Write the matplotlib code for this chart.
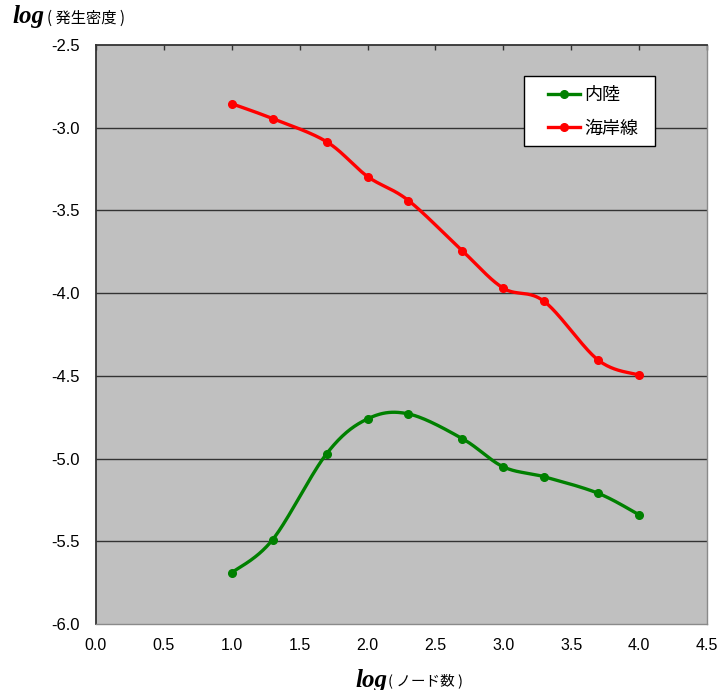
import numpy as np
import matplotlib
matplotlib.use("Agg")
import matplotlib.pyplot as plt
from matplotlib.patches import Rectangle

# ---- data ----
node_counts = [10, 20, 50, 100, 200, 500, 1000, 2000, 5000, 10000]
inland = [-5.69, -5.49, -4.97, -4.76, -4.73, -4.88, -5.05, -5.11, -5.21, -5.34]
coast = [-2.855, -2.945, -3.085, -3.295, -3.44, -3.745, -3.97, -4.05, -4.405, -4.495]
series_names = ["内陸", "海岸線"]
series_colors = ["#008000", "#FF0000"]
xticks = [0.0, 0.5, 1.0, 1.5, 2.0, 2.5, 3.0, 3.5, 4.0, 4.5]
yticks = [-6.0, -5.5, -5.0, -4.5, -4.0, -3.5, -3.0, -2.5]

W, H = 717, 690
fig = plt.figure(figsize=(W / 100, H / 100), dpi=100)
ax = fig.add_axes([96 / W, 1 - 624 / H, (707 - 96) / W, (624 - 45) / H])
ax.set_facecolor("#C0C0C0")


def smooth(x, y, n=40):
    """Excel-like smoothed line: cubic Bezier through points (Catmull-Rom)."""
    x = np.asarray(x, float)
    y = np.asarray(y, float)
    px = np.concatenate([[x[0]], x, [x[-1]]])
    py = np.concatenate([[y[0]], y, [y[-1]]])
    xs, ys = [], []
    t = np.linspace(0, 1, n)
    for i in range(1, len(px) - 2):
        p0 = np.array([px[i], py[i]])
        p3 = np.array([px[i + 1], py[i + 1]])
        p1 = p0 + (np.array([px[i + 1], py[i + 1]]) - np.array([px[i - 1], py[i - 1]])) / 6
        p2 = p3 - (np.array([px[i + 2], py[i + 2]]) - np.array([px[i], py[i]])) / 6
        b = ((1 - t) ** 3)[:, None] * p0 + (3 * (1 - t) ** 2 * t)[:, None] * p1 \
            + (3 * (1 - t) * t ** 2)[:, None] * p2 + (t ** 3)[:, None] * p3
        xs.extend(b[:, 0])
        ys.extend(b[:, 1])
    return np.array(xs), np.array(ys)


xvals = np.log10(node_counts)
handles = []
for vals, name, col in zip([inland, coast], series_names, series_colors):
    sx, sy = smooth(xvals, vals)
    ax.plot(sx, sy, color=col, lw=2.4, solid_capstyle="round", zorder=3)
    ax.plot(xvals, vals, 'o', color=col, ms=5.5, zorder=4)
    h, = ax.plot([], [], color=col, lw=2.4, marker='o', ms=5.5)
    h.set_label(name)
    handles.append(h)

ax.set_xlim(0, 4.5)
ax.set_ylim(-6.0, -2.5)
ax.set_xticks(xticks)
ax.set_yticks(yticks)
ax.set_xticklabels([f"{v:.1f}" for v in xticks])
ax.set_yticklabels([f"{v:.1f}" for v in yticks])

for yv in yticks[1:-1]:
    ax.axhline(yv, color="#333333", lw=1.0, zorder=1)

for lab in ax.get_xticklabels():
    lab.set_fontfamily("Liberation Sans")
    lab.set_fontsize(11.5)
for lab in ax.get_yticklabels():
    lab.set_fontfamily("Liberation Sans")
    lab.set_fontsize(12)
ax.tick_params(axis='x', bottom=False, top=True, direction='in', length=3.5,
               width=1.0, color="#333333", labelbottom=True, labeltop=False, pad=10)
ax.tick_params(axis='y', left=False, right=False, pad=8)

ax.spines['top'].set_color("#333333")
ax.spines['top'].set_linewidth(1.3)
ax.spines['left'].set_color("#333333")
ax.spines['left'].set_linewidth(1.3)
ax.spines['bottom'].set_color("#8a8a8a")
ax.spines['right'].set_color("#8a8a8a")
ax.spines['bottom'].set_linewidth(1.0)
ax.spines['right'].set_linewidth(1.0)

# legend box
box = Rectangle((524 / W, 1 - 146 / H), (655 - 524) / W, (146 - 76) / H,
                transform=fig.transFigure, facecolor="white", edgecolor="black",
                lw=1.0, zorder=8, clip_on=False)
ax.add_patch(box)
leg = ax.legend(handles=handles, loc="upper left",
                bbox_to_anchor=(548 / W, 1 - 86 / H), bbox_transform=fig.transFigure,
                prop=dict(family=["Noto Sans CJK JP", "DejaVu Sans"], size=13),
                frameon=False, borderaxespad=0, borderpad=0, numpoints=1,
                handlelength=1.75, handletextpad=0.25, labelspacing=0.86)
leg.set_zorder(9)


def ftext(x, y, s, **kw):
    fig.text(x / W, 1 - y / H, s, **kw)


# y-axis label (top-left)
ftext(12, 17, "log", family="Liberation Serif", weight="bold", style="italic",
      size=18, va="center", ha="left")
ftext(47, 18, "( 発生密度 )", family=["Noto Sans CJK JP", "DejaVu Sans"],
      size=11, va="center", ha="left")
# x-axis label (bottom)
ftext(355, 680, "log", family="Liberation Serif", weight="bold", style="italic",
      size=18, va="center", ha="left")
ftext(388, 681, "( ノード数 )", family=["Noto Sans CJK JP", "DejaVu Sans"],
      size=10.5, va="center", ha="left")

fig.savefig("out.png", dpi=100)
